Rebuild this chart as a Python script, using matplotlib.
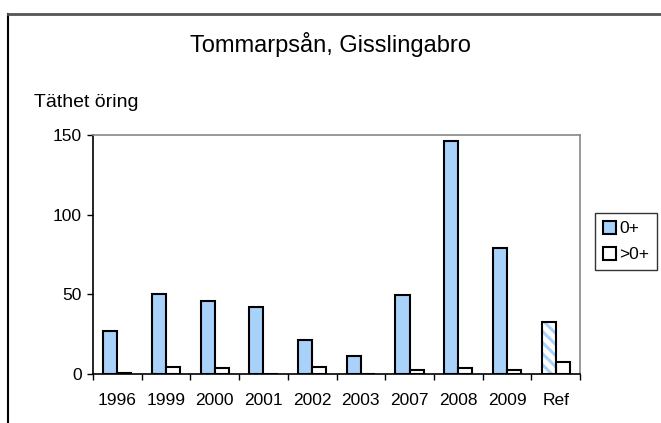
import matplotlib.pyplot as plt
import numpy as np
from matplotlib.lines import Line2D
from matplotlib.patches import Patch

plt.rcParams['font.family'] = ['Liberation Sans', 'DejaVu Sans']
plt.rcParams['hatch.linewidth'] = 2.2

years = ["1996", "1999", "2000", "2001", "2002", "2003", "2007", "2008", "2009", "Ref"]
yngel = [27, 50, 46, 42, 21, 11.5, 49.3, 146.5, 79, 32.3]      # 0+
aldre = [0.5, 4.4, 3.7, 0, 4.6, 0, 2.3, 3.8, 2.5, 7.7]          # >0+

blue = '#A8D2FA'

fig = plt.figure(figsize=(6.61, 4.23), dpi=100)
ax = fig.add_axes([0.1407, 0.1160, 0.7368, 0.5650])

x = np.arange(len(years))
w = 0.29
n = len(years) - 1

# vanliga år
ax.bar(x[:n] - w / 2, yngel[:n], w, color=blue, edgecolor='black', linewidth=1.5, zorder=3)
# referens: randig stapel
ax.bar(x[n] - w / 2, yngel[n], w, color='white', edgecolor=blue, hatch='\\\\\\', linewidth=0, zorder=3)
ax.bar(x[n] - w / 2, yngel[n], w, fill=False, edgecolor='black', linewidth=1.5, zorder=4)
ax.bar(x + w / 2, aldre, w, color='white', edgecolor='black', linewidth=1.5, zorder=3)

ax.set_xlim(-0.5, len(years) - 0.5)
ax.set_ylim(0, 150)
ax.set_yticks([0, 50, 100, 150])
ax.set_xticks(x)
ax.set_xticklabels(years)
ax.set_xticks(np.arange(-0.5, len(years)), minor=True)
ax.tick_params(axis='x', which='major', length=0, pad=14, labelsize=12.5)
ax.tick_params(axis='x', which='minor', length=4, width=1)
ax.tick_params(axis='y', length=4, width=1, labelsize=12.5, pad=4)

for s in ['top', 'right']:
    ax.spines[s].set_color('#888888')
    ax.spines[s].set_linewidth(1.2)
for s in ['left', 'bottom']:
    ax.spines[s].set_color('black')
    ax.spines[s].set_linewidth(1.2)

fig.text(0.5, 0.895, "Tommarpsån, Gisslingabro", ha='center', va='center', fontsize=17)
fig.text(0.052, 0.758, "Täthet öring", ha='left', va='center', fontsize=14)

handles = [Patch(facecolor=blue, edgecolor='black', linewidth=1.5),
           Patch(facecolor='white', edgecolor='black', linewidth=1.5)]
leg = fig.legend(handles, ["0+", ">0+"], loc='upper left', bbox_to_anchor=(0.9, 0.496),
                 fontsize=12.5, frameon=True, fancybox=False, edgecolor='black',
                 handlelength=0.75, handleheight=0.75, handletextpad=0.2,
                 borderpad=0.45, labelspacing=0.6, borderaxespad=0)
leg.get_frame().set_linewidth(1)

# yttre ram
fig.add_artist(Line2D([0.012, 0.012], [0, 0.967], color='black', linewidth=1.5, transform=fig.transFigure))
fig.add_artist(Line2D([0.012, 1], [0.967, 0.967], color='#555555', linewidth=2, transform=fig.transFigure))

fig.savefig("out.png", dpi=100)
